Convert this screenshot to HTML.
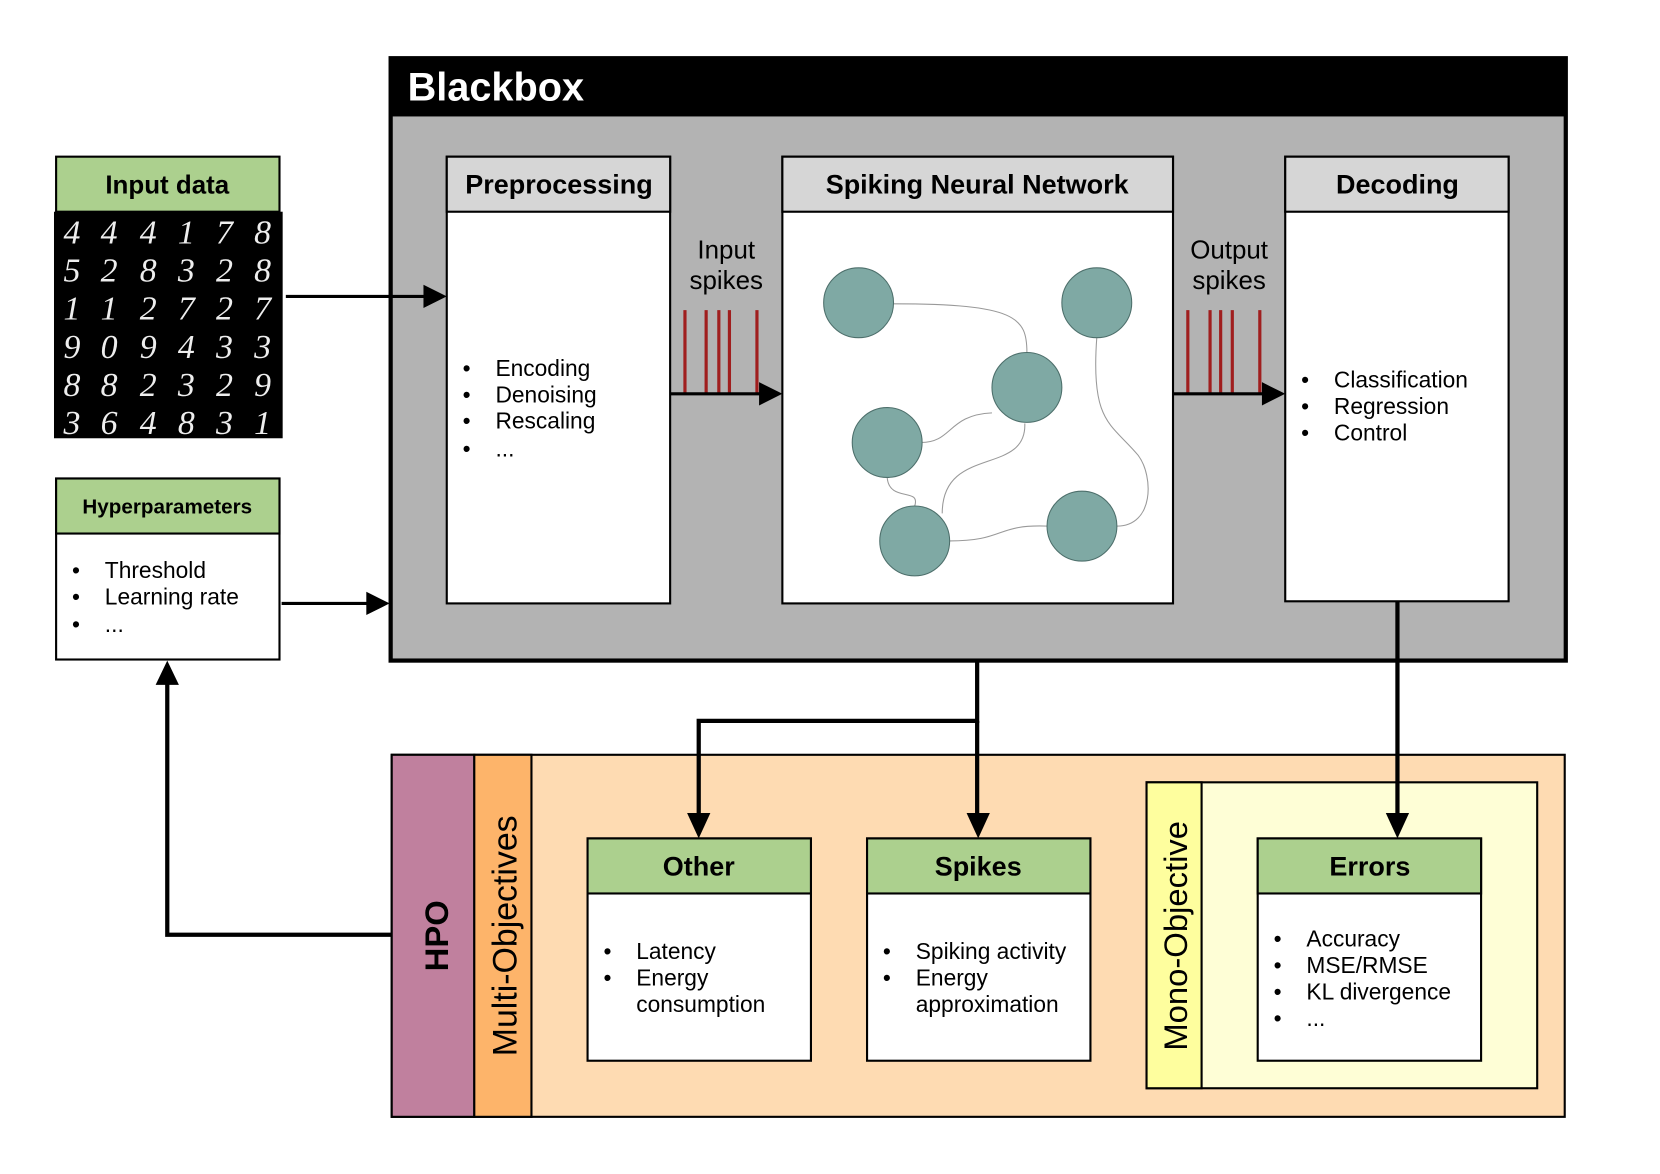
<!DOCTYPE html>
<html><head><style>html,body{margin:0;padding:0;background:#fff}svg{display:block}</style></head><body>
<svg width="1660" height="1174" viewBox="0 0 1568 1109" preserveAspectRatio="none" xmlns="http://www.w3.org/2000/svg" font-family="Liberation Sans, sans-serif">
<!-- Blackbox -->
<rect x="369" y="55" width="1110" height="569" fill="#b3b3b3" stroke="#000" stroke-width="4"/>
<rect x="369" y="55" width="1110" height="55" fill="#000"/>
<text x="385" y="95" font-size="37.5" font-weight="bold" fill="#fff">Blackbox</text>
<!-- Input data -->
<rect x="53" y="148" width="211" height="52" fill="#acd08e" stroke="#000" stroke-width="2"/>
<text x="158" y="183" font-size="24.5" font-weight="bold" text-anchor="middle">Input data</text>
<rect x="51" y="200" width="216" height="214" fill="#000"/>
<g fill="#eee" font-size="32" font-family="Liberation Serif, serif" font-style="italic" text-anchor="middle">
<text y="230"><tspan x="68">4</tspan><tspan x="103">4</tspan><tspan x="140">4</tspan><tspan x="176">1</tspan><tspan x="212">7</tspan><tspan x="248">8</tspan></text>
<text y="266"><tspan x="68">5</tspan><tspan x="103">2</tspan><tspan x="140">8</tspan><tspan x="176">3</tspan><tspan x="212">2</tspan><tspan x="248">8</tspan></text>
<text y="302"><tspan x="68">1</tspan><tspan x="103">1</tspan><tspan x="140">2</tspan><tspan x="176">7</tspan><tspan x="212">2</tspan><tspan x="248">7</tspan></text>
<text y="338"><tspan x="68">9</tspan><tspan x="103">0</tspan><tspan x="140">9</tspan><tspan x="176">4</tspan><tspan x="212">3</tspan><tspan x="248">3</tspan></text>
<text y="374"><tspan x="68">8</tspan><tspan x="103">8</tspan><tspan x="140">2</tspan><tspan x="176">3</tspan><tspan x="212">2</tspan><tspan x="248">9</tspan></text>
<text y="410"><tspan x="68">3</tspan><tspan x="103">6</tspan><tspan x="140">4</tspan><tspan x="176">8</tspan><tspan x="212">3</tspan><tspan x="248">1</tspan></text>
</g>
<!-- Hyperparameters -->
<rect x="53" y="452" width="211" height="171" fill="#fff" stroke="#000" stroke-width="2"/>
<rect x="53" y="452" width="211" height="52" fill="#acd08e" stroke="#000" stroke-width="2"/>
<text x="158" y="485" font-size="19.5" font-weight="bold" text-anchor="middle">Hyperparameters</text>
<g font-size="21.5"><text x="68" y="546">•</text><text x="99" y="546">Threshold</text><text x="68" y="571">•</text><text x="99" y="571">Learning rate</text><text x="68" y="597">•</text><text x="99" y="597">...</text></g>
<!-- arrows into blackbox -->
<g stroke="#000" stroke-width="3"><line x1="270" y1="280" x2="402" y2="280"/><line x1="266" y1="570" x2="348" y2="570"/></g>
<g fill="#000"><path d="M400,269 L422,280 L400,291z"/><path d="M346,559 L368,570 L346,581z"/><path d="M717,361 L739,372 L717,383z"/><path d="M1192,361 L1214,372 L1192,383z"/></g>
<!-- Preprocessing -->
<rect x="422" y="148" width="211" height="422" fill="#fff" stroke="#000" stroke-width="2"/>
<rect x="422" y="148" width="211" height="52" fill="#d6d6d6" stroke="#000" stroke-width="2"/>
<text x="528" y="183" font-size="25.5" font-weight="bold" text-anchor="middle">Preprocessing</text>
<g font-size="21.5"><text x="437" y="355">•</text><text x="468" y="355">Encoding</text><text x="437" y="380">•</text><text x="468" y="380">Denoising</text><text x="437" y="405">•</text><text x="468" y="405">Rescaling</text><text x="437" y="431">•</text><text x="468" y="431">...</text></g>
<!-- SNN -->
<rect x="739" y="148" width="369" height="422" fill="#fff" stroke="#000" stroke-width="2"/>
<rect x="739" y="148" width="369" height="52" fill="#d6d6d6" stroke="#000" stroke-width="2"/>
<text x="923" y="183" font-size="25.5" font-weight="bold" text-anchor="middle">Spiking Neural Network</text>
<g fill="none" stroke="#999" stroke-width="1">
<path d="M844,287 C960,287 970,300 970,333"/>
<path d="M1036,319 C1030,400 1050,400 1075,430 C1090,450 1090,497 1055,497"/>
<path d="M870,418 C900,418 895,392 937,390"/>
<path d="M838,451 C840,475 870,460 864,478"/>
<path d="M890,485 C890,420 970,450 968,400"/>
<path d="M897,511 C950,511 940,495 990,497"/>
</g>
<g fill="#7fa9a4" stroke="#4d6f6b" stroke-width="1">
<circle cx="811" cy="286" r="33"/><circle cx="1036" cy="286" r="33"/><circle cx="970" cy="366" r="33"/><circle cx="838" cy="418" r="33"/><circle cx="864" cy="511" r="33"/><circle cx="1022" cy="497" r="33"/>
</g>
<!-- Decoding -->
<rect x="1214" y="148" width="211" height="420" fill="#fff" stroke="#000" stroke-width="2"/>
<rect x="1214" y="148" width="211" height="52" fill="#d6d6d6" stroke="#000" stroke-width="2"/>
<text x="1320" y="183" font-size="25.5" font-weight="bold" text-anchor="middle">Decoding</text>
<g font-size="21.5"><text x="1229" y="366">•</text><text x="1260" y="366">Classification</text><text x="1229" y="391">•</text><text x="1260" y="391">Regression</text><text x="1229" y="416">•</text><text x="1260" y="416">Control</text></g>
<!-- spikes -->
<g font-size="24.5" text-anchor="middle"><text x="686" y="244">Input</text><text x="686" y="273">spikes</text><text x="1161" y="244">Output</text><text x="1161" y="273">spikes</text></g>
<g stroke="#a01e1e" stroke-width="3">
<line x1="647" y1="293" x2="647" y2="372"/><line x1="667" y1="293" x2="667" y2="372"/><line x1="679" y1="293" x2="679" y2="372"/><line x1="689" y1="293" x2="689" y2="372"/><line x1="715" y1="293" x2="715" y2="372"/>
<line x1="1122" y1="293" x2="1122" y2="372"/><line x1="1143" y1="293" x2="1143" y2="372"/><line x1="1153" y1="293" x2="1153" y2="372"/><line x1="1164" y1="293" x2="1164" y2="372"/><line x1="1190" y1="293" x2="1190" y2="372"/>
</g>
<g stroke="#000" stroke-width="3"><line x1="633" y1="372" x2="718" y2="372"/><line x1="1108" y1="372" x2="1193" y2="372"/></g>
<!-- bottom -->
<rect x="370" y="713" width="1108" height="342" fill="#fedbb2" stroke="#000" stroke-width="2"/>
<rect x="370" y="713" width="78" height="342" fill="#c0809e" stroke="#000" stroke-width="2"/>
<rect x="448" y="713" width="54" height="342" fill="#fdb46a" stroke="#000" stroke-width="2"/>
<text transform="translate(423,884) rotate(-90)" font-size="31" font-weight="bold" text-anchor="middle">HPO</text>
<text transform="translate(488,884) rotate(-90)" font-size="32" text-anchor="middle">Multi-Objectives</text>
<rect x="1083" y="739" width="369" height="289" fill="#fefed6" stroke="#000" stroke-width="2"/>
<rect x="1083" y="739" width="52" height="289" fill="#fefe9e" stroke="#000" stroke-width="2"/>
<text transform="translate(1121,884) rotate(-90)" font-size="31" text-anchor="middle">Mono-Objective</text>
<!-- Other -->
<rect x="555" y="792" width="211" height="210" fill="#fff" stroke="#000" stroke-width="2"/>
<rect x="555" y="792" width="211" height="52" fill="#acd08e" stroke="#000" stroke-width="2"/>
<text x="660" y="827" font-size="25.5" font-weight="bold" text-anchor="middle">Other</text>
<g font-size="21.5"><text x="570" y="906">•</text><text x="601" y="906">Latency</text><text x="570" y="931">•</text><text x="601" y="931">Energy</text><text x="601" y="956">consumption</text></g>
<!-- Spikes -->
<rect x="819" y="792" width="211" height="210" fill="#fff" stroke="#000" stroke-width="2"/>
<rect x="819" y="792" width="211" height="52" fill="#acd08e" stroke="#000" stroke-width="2"/>
<text x="924" y="827" font-size="25.5" font-weight="bold" text-anchor="middle">Spikes</text>
<g font-size="21.5"><text x="834" y="906">•</text><text x="865" y="906">Spiking activity</text><text x="834" y="931">•</text><text x="865" y="931">Energy</text><text x="865" y="956">approximation</text></g>
<!-- Errors -->
<rect x="1188" y="792" width="211" height="210" fill="#fff" stroke="#000" stroke-width="2"/>
<rect x="1188" y="792" width="211" height="52" fill="#acd08e" stroke="#000" stroke-width="2"/>
<text x="1294" y="827" font-size="25.5" font-weight="bold" text-anchor="middle">Errors</text>
<g font-size="21.5"><text x="1203" y="894">•</text><text x="1234" y="894">Accuracy</text><text x="1203" y="919">•</text><text x="1234" y="919">MSE/RMSE</text><text x="1203" y="944">•</text><text x="1234" y="944">KL divergence</text><text x="1203" y="969">•</text><text x="1234" y="969">...</text></g>
<!-- connectors -->
<g fill="none" stroke="#000" stroke-width="4">
<path d="M923,625 V681 H660 V770"/>
<path d="M923,681 V770"/>
<path d="M1320,568 V770"/>
<path d="M370,883 H158 V646"/>
</g>
<g fill="#000">
<path d="M649,768 L671,768 L660,792z"/>
<path d="M913,768 L935,768 L924,792z"/>
<path d="M1309,768 L1331,768 L1320,792z"/>
<path d="M147,647 L169,647 L158,624z"/>
</g>
</svg>
</body></html>
